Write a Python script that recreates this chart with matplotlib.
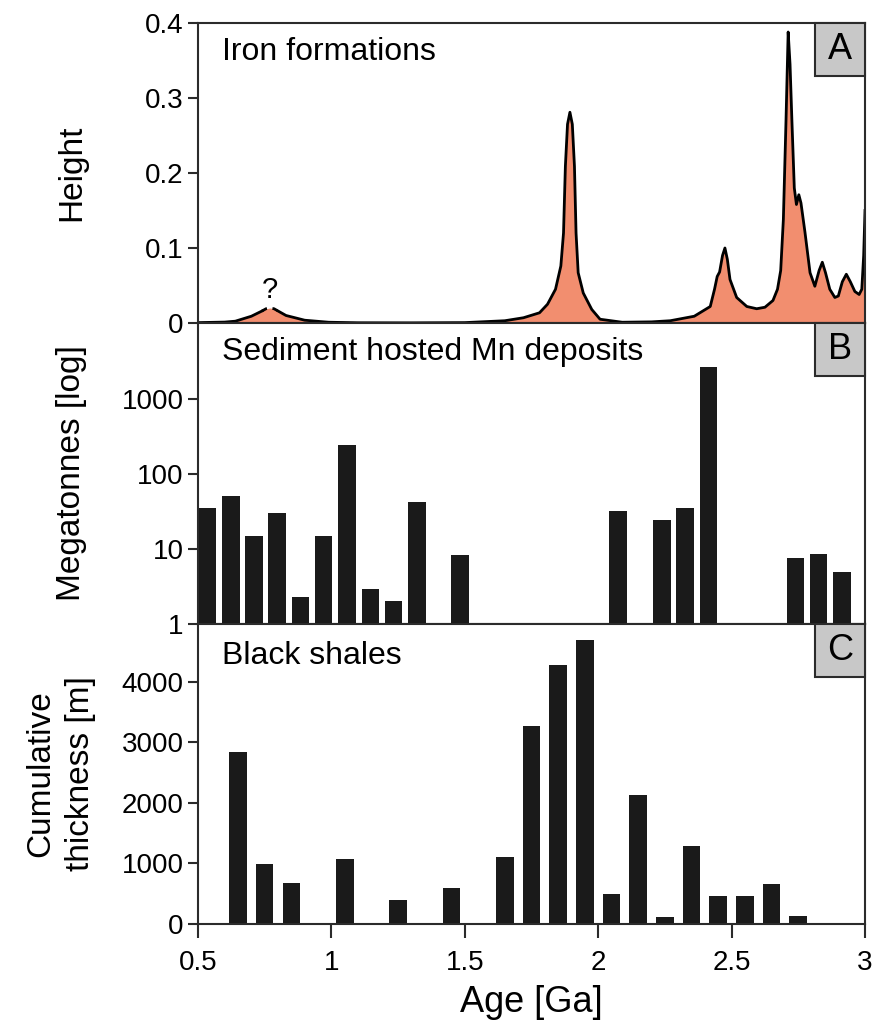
import numpy as np
import matplotlib
matplotlib.use("Agg")
import matplotlib.pyplot as plt
from matplotlib.patches import Rectangle

plt.rcParams['font.family'] = ['Liberation Sans', 'DejaVu Sans']

# Panel A - iron formations, traced curve (age in Ga, height)
if_age = [0.50, 0.60, 0.64, 0.70, 0.74, 0.755, 0.77, 0.785, 0.80, 0.83, 0.90, 0.99,
          1.10, 1.30, 1.50, 1.65, 1.72, 1.78, 1.81, 1.84, 1.86, 1.87, 1.877, 1.885,
          1.894, 1.903, 1.911, 1.917, 1.925, 1.944, 1.976, 2.007, 2.09, 2.20, 2.27,
          2.36, 2.42, 2.436, 2.446, 2.455, 2.466, 2.475, 2.484, 2.494, 2.519, 2.557,
          2.594, 2.625, 2.655, 2.672, 2.684, 2.694, 2.704, 2.712, 2.719, 2.726, 2.735,
          2.743, 2.752, 2.760, 2.775, 2.794, 2.812, 2.828, 2.840, 2.852, 2.868, 2.887,
          2.900, 2.915, 2.930, 2.945, 2.962, 2.978, 2.988, 2.995, 3.000]
if_height = [0.0005, 0.0012, 0.0024, 0.009, 0.016, 0.019, 0.020, 0.019, 0.016, 0.010,
             0.0037, 0.001, 0.0003, 0.0002, 0.0005, 0.003, 0.007, 0.0136, 0.025, 0.045,
             0.076, 0.12, 0.209, 0.265, 0.281, 0.265, 0.209, 0.12, 0.067, 0.040, 0.018,
             0.005, 0.001, 0.0015, 0.003, 0.009, 0.022, 0.045, 0.062, 0.068, 0.090,
             0.100, 0.085, 0.058, 0.034, 0.022, 0.019, 0.021, 0.030, 0.045, 0.070, 0.138,
             0.271, 0.388, 0.345, 0.270, 0.180, 0.158, 0.171, 0.160, 0.121, 0.067, 0.049,
             0.070, 0.081, 0.067, 0.045, 0.034, 0.036, 0.055, 0.065, 0.055, 0.042, 0.038,
             0.045, 0.090, 0.150]

# Panel B - sediment hosted Mn deposits
mn_age = [0.536, 0.623, 0.710, 0.797, 0.884, 0.970, 1.059, 1.146, 1.233, 1.320,
          1.482, 2.074, 2.239, 2.326, 2.413, 2.739, 2.826, 2.913]
mn_mt = [35, 52, 15, 30, 2.3, 15, 245, 2.9, 2.0, 43, 8.3, 32, 24.5, 35.5, 2750,
         7.7, 8.7, 4.9]

# Panel C - black shales
sh_age = [0.65, 0.75, 0.85, 1.05, 1.25, 1.45, 1.65, 1.75, 1.85, 1.95, 2.05, 2.15,
          2.25, 2.35, 2.45, 2.55, 2.65, 2.75]
sh_thick = [2830, 990, 680, 1070, 400, 600, 1100, 3260, 4280, 4680, 500, 2130,
            110, 1280, 460, 465, 665, 125]

fill_col = '#f28e6f'
bar_col = '#1a1a1a'
spine_col = '#2b2b2b'
bar_w = 0.066


def panel_box(ax, letter):
    ax.add_patch(Rectangle((0.925, 0.823), 0.075, 0.177, transform=ax.transAxes,
                           facecolor='#c8c8c8', edgecolor=spine_col, lw=1.5,
                           zorder=5, clip_on=False))
    ax.text(0.9625, 0.9115, letter, transform=ax.transAxes, ha='center',
            va='center', fontsize=26, zorder=6)


def style(ax):
    for s in ax.spines.values():
        s.set_color(spine_col)
        s.set_linewidth(1.5)
    ax.tick_params(direction='out', length=7, width=1.5, labelsize=20,
                   color=spine_col)
    ax.set_xlim(0.5, 3)


fig = plt.figure(figsize=(8.78, 10.27), dpi=100)
L, W = 0.2255, 0.7597
axA = fig.add_axes([L, 0.6855, W, 0.2921])
axB = fig.add_axes([L, 0.3924, W, 0.2931])
axC = fig.add_axes([L, 0.1003, W, 0.2921])

# --- A
x = np.array(if_age)
y = np.array(if_height)
axA.fill_between(x, 0, y, color=fill_col, lw=0)
dash = (x > 0.745) & (x < 0.795)
idx = np.where(dash)[0]
solid_y = np.where(dash, np.nan, y)
axA.plot(x, solid_y, color='black', lw=2)
seg = slice(idx[0] - 1, idx[-1] + 2)
axA.plot(x[seg], y[seg], color='black', lw=2, ls=(0, (2, 2)))
axA.set_ylim(0, 0.4)
axA.set_yticks([0, 0.1, 0.2, 0.3, 0.4])
axA.set_yticklabels(['0', '0.1', '0.2', '0.3', '0.4'])
axA.text(0.77, 0.044, '?', ha='center', va='center', fontsize=21)
axA.text(0.036, 0.905, 'Iron formations', transform=axA.transAxes,
         va='center', fontsize=23)
style(axA)
axA.tick_params(axis='x', bottom=False, labelbottom=False)
axA.set_ylabel('Height', fontsize=24)
axA.yaxis.set_label_coords(-0.166, 0.5)
panel_box(axA, 'A')

# --- B
axB.set_yscale('log')
axB.bar(mn_age, mn_mt, width=bar_w, color=bar_col)
axB.set_ylim(1, 10500)
axB.set_yticks([1, 10, 100, 1000])
axB.set_yticklabels(['1', '10', '100', '1000'])
axB.minorticks_off()
axB.text(0.036, 0.905, 'Sediment hosted Mn deposits', transform=axB.transAxes,
         va='center', fontsize=23)
style(axB)
axB.tick_params(axis='x', bottom=False, labelbottom=False)
axB.set_ylabel('Megatonnes [log]', fontsize=24)
axB.yaxis.set_label_coords(-0.166, 0.5)
panel_box(axB, 'B')

# --- C
axC.bar(sh_age, sh_thick, width=bar_w, color=bar_col)
axC.set_ylim(0, 4950)
axC.set_yticks([0, 1000, 2000, 3000, 4000])
axC.text(0.036, 0.895, 'Black shales', transform=axC.transAxes,
         va='center', fontsize=23)
style(axC)
axC.set_xticks([0.5, 1, 1.5, 2, 2.5, 3])
axC.set_xticklabels(['0.5', '1', '1.5', '2', '2.5', '3'])
axC.tick_params(axis='x', length=10, pad=9)
axC.set_xlabel('Age [Ga]', fontsize=26, labelpad=6)
axC.set_ylabel('Cumulative\nthickness [m]', fontsize=24, linespacing=1.35)
axC.yaxis.set_label_coords(-0.153, 0.5)
panel_box(axC, 'C')

fig.savefig('out.png', dpi=100)
